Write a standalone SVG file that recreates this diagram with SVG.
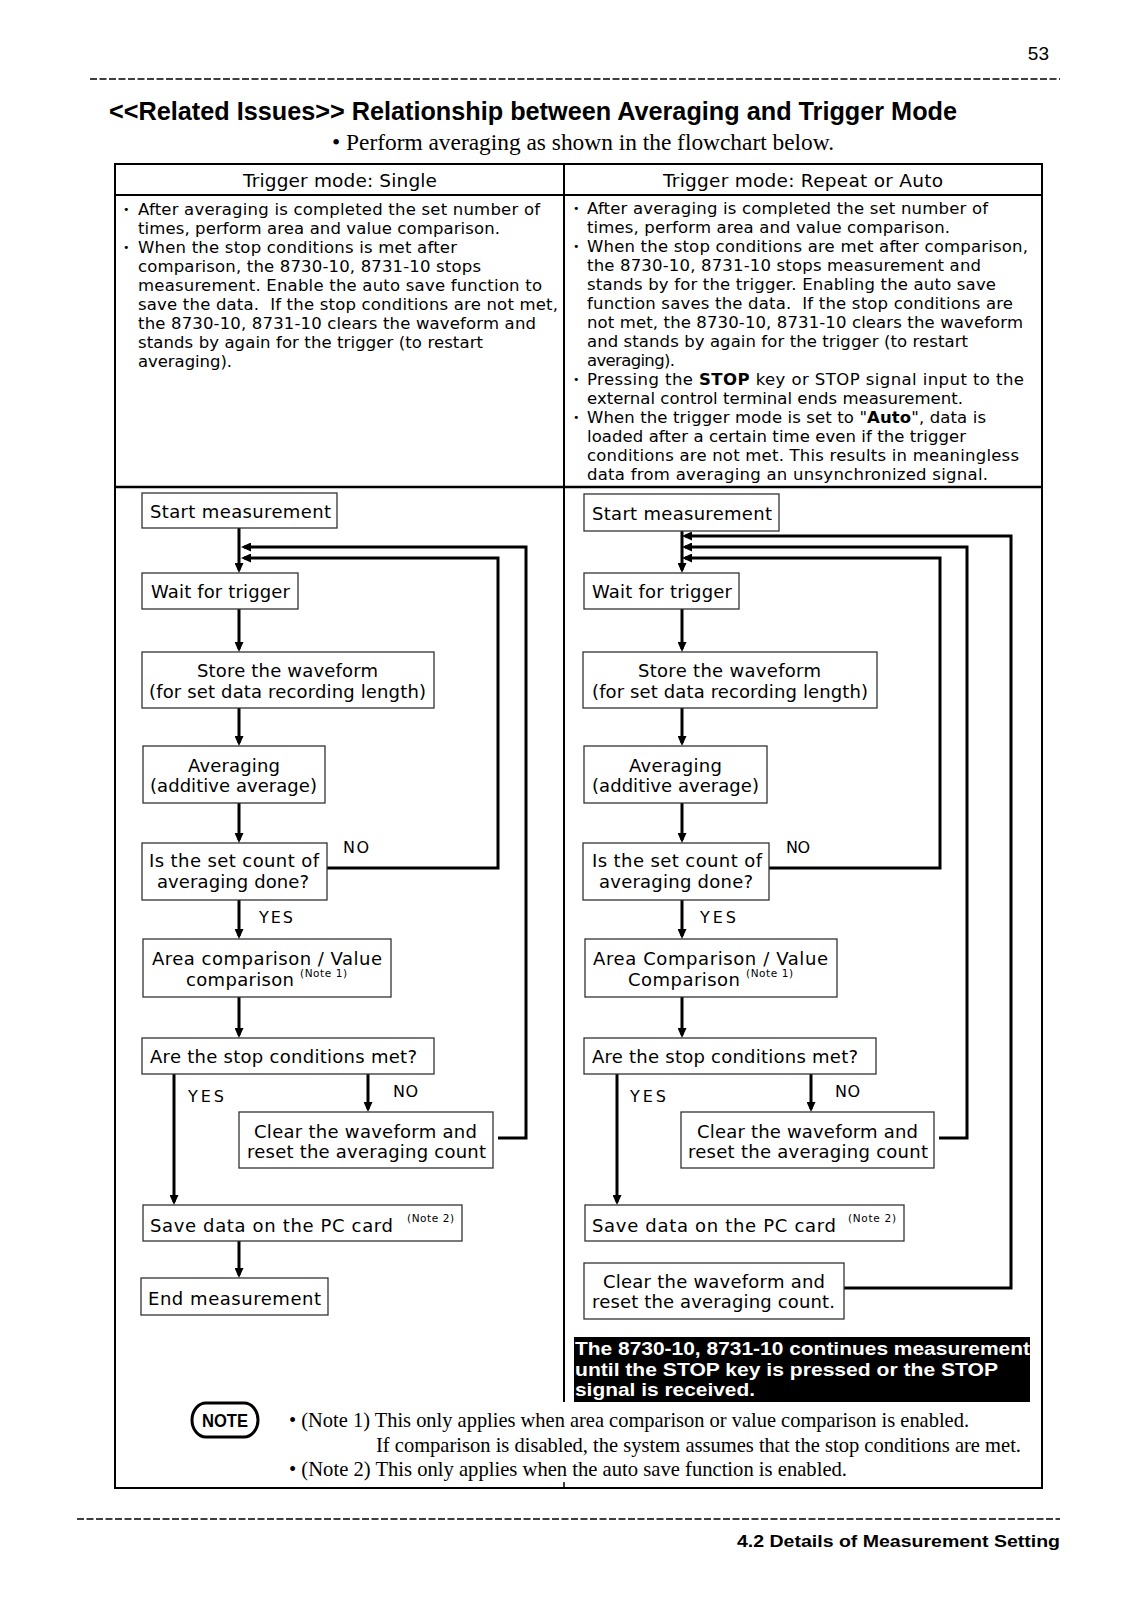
<svg xmlns="http://www.w3.org/2000/svg" width="1131" height="1600" viewBox="0 0 1131 1600">
<style>
.bg{fill:#fff}
.box{fill:#fff;stroke:#333;stroke-width:1.3}
.t{font-family:"DejaVu Sans",sans-serif;font-size:18px;fill:#000}
.d{font-family:"DejaVu Sans",sans-serif;font-size:16.5px;fill:#000}
.bul{font-family:"DejaVu Sans",sans-serif;font-size:11px;fill:#000}
.lbl{font-family:"DejaVu Sans",sans-serif;font-size:16px;fill:#000}
.sup{font-family:"DejaVu Sans",sans-serif;font-size:10.5px;fill:#000}
.hd{font-family:"DejaVu Sans",sans-serif;font-size:18.5px;fill:#000}
.serif{font-family:"Liberation Serif","Times New Roman",serif;fill:#000}
.bold{font-family:"Liberation Sans",Arial,sans-serif;font-weight:bold}
.conn{stroke:#000;stroke-width:3;fill:none}
.rule{stroke:#000;fill:none}
.dash{stroke:#000;stroke-width:1.4;stroke-dasharray:7 2.5;fill:none}
</style>
<defs>
<marker id="ah" markerUnits="userSpaceOnUse" markerWidth="10" markerHeight="9" refX="7" refY="4.5" orient="auto">
<path d="M0,0 L10,4.5 L0,9 z" fill="#000"/>
</marker>
</defs>
<rect class="bg" x="0" y="0" width="1131" height="1600"/>

<!-- page header -->
<g id="page-header">
<text x="1049" y="60" text-anchor="end" font-family="Liberation Sans, Arial, sans-serif" font-size="19">53</text>
<line class="dash" x1="90" y1="79" x2="1060" y2="79"/>
<text class="bold" x="109" y="119.5" font-size="26" textLength="848" lengthAdjust="spacingAndGlyphs">&lt;&lt;Related Issues&gt;&gt;  Relationship between Averaging and Trigger Mode</text>
<text class="serif" x="332" y="150" font-size="23" textLength="502" lengthAdjust="spacingAndGlyphs">• Perform averaging as shown in the flowchart below.</text>
</g>

<!-- table frame -->
<g id="table">
<rect x="115" y="164" width="927" height="1324" fill="none" stroke="#000" stroke-width="2"/>
<line class="rule" x1="115" y1="195" x2="1042" y2="195" stroke-width="2"/>
<line class="rule" x1="115" y1="487" x2="1042" y2="487" stroke-width="2.5"/>
<line class="rule" x1="564" y1="164" x2="564" y2="1402" stroke-width="2"/>
<line class="rule" x1="564" y1="1482" x2="564" y2="1488" stroke-width="1.5"/>
<text class="hd" x="243" y="187" textLength="194">Trigger mode: Single</text>
<text class="hd" x="663" y="187" textLength="280">Trigger mode: Repeat or Auto</text>
</g>

<!-- descriptions -->
<g id="desc-left">
<text class="bul" x="123" y="213">•</text>
<text class="bul" x="123" y="251">•</text>
<text class="d" x="138" y="215" textLength="402">After averaging is completed the set number of</text>
<text class="d" x="138" y="234" textLength="362">times, perform area and value comparison.</text>
<text class="d" x="138" y="253" textLength="319">When the stop conditions is met after</text>
<text class="d" x="138" y="272" textLength="343">comparison, the 8730-10, 8731-10 stops</text>
<text class="d" x="138" y="291" textLength="404">measurement. Enable the auto save function to</text>
<text class="d" x="138" y="310" textLength="420">save the data.&#160; If the stop conditions are not met,</text>
<text class="d" x="138" y="329" textLength="398">the 8730-10, 8731-10 clears the waveform and</text>
<text class="d" x="138" y="348" textLength="345">stands by again for the trigger (to restart</text>
<text class="d" x="138" y="367" textLength="94">averaging).</text>
</g>
<g id="desc-right">
<text class="bul" x="573" y="212">•</text>
<text class="bul" x="573" y="250">•</text>
<text class="bul" x="573" y="383">•</text>
<text class="bul" x="573" y="421">•</text>
<text class="d" x="587" y="214" textLength="401">After averaging is completed the set number of</text>
<text class="d" x="587" y="233" textLength="363">times, perform area and value comparison.</text>
<text class="d" x="587" y="252" textLength="441">When the stop conditions are met after comparison,</text>
<text class="d" x="587" y="271" textLength="394">the 8730-10, 8731-10 stops measurement and</text>
<text class="d" x="587" y="290" textLength="409">stands by for the trigger. Enabling the auto save</text>
<text class="d" x="587" y="309" textLength="426">function saves the data.&#160; If the stop conditions are</text>
<text class="d" x="587" y="328" textLength="436">not met, the 8730-10, 8731-10 clears the waveform</text>
<text class="d" x="587" y="347" textLength="381">and stands by again for the trigger (to restart</text>
<text class="d" x="587" y="366" textLength="88">averaging).</text>
<text class="d" x="587" y="385" textLength="437">Pressing the <tspan font-weight="bold">STOP</tspan> key or STOP signal input to the</text>
<text class="d" x="587" y="404" textLength="376">external control terminal ends measurement.</text>
<text class="d" x="587" y="423" textLength="399">When the trigger mode is set to "<tspan font-weight="bold">Auto</tspan>", data is</text>
<text class="d" x="587" y="442" textLength="379">loaded after a certain time even if the trigger</text>
<text class="d" x="587" y="461" textLength="432">conditions are not met. This results in meaningless</text>
<text class="d" x="587" y="480" textLength="401">data from averaging an unsynchronized signal.</text>
</g>

<!-- connectors -->
<g id="connectors">
<path class="conn" d="M239,528 V570" marker-end="url(#ah)"/>
<path class="conn" d="M498,1138 H526 V547 H244" marker-end="url(#ah)"/>
<path class="conn" d="M327,868 H498 V558 H244" marker-end="url(#ah)"/>
<path class="conn" d="M239,609 V649" marker-end="url(#ah)"/>
<path class="conn" d="M239,708 V743" marker-end="url(#ah)"/>
<path class="conn" d="M239,803 V840" marker-end="url(#ah)"/>
<path class="conn" d="M239,900 V936" marker-end="url(#ah)"/>
<path class="conn" d="M239,997 V1035" marker-end="url(#ah)"/>
<path class="conn" d="M174,1074 V1202" marker-end="url(#ah)"/>
<path class="conn" d="M368,1074 V1109" marker-end="url(#ah)"/>
<path class="conn" d="M239,1241 V1275" marker-end="url(#ah)"/>

<path class="conn" d="M682,531 V570" marker-end="url(#ah)"/>
<path class="conn" d="M844,1288 H1011 V536 H685" marker-end="url(#ah)"/>
<path class="conn" d="M939,1138 H967 V547 H685" marker-end="url(#ah)"/>
<path class="conn" d="M769,868 H940 V558 H685" marker-end="url(#ah)"/>
<path class="conn" d="M682,609 V649" marker-end="url(#ah)"/>
<path class="conn" d="M682,708 V743" marker-end="url(#ah)"/>
<path class="conn" d="M682,803 V840" marker-end="url(#ah)"/>
<path class="conn" d="M682,900 V936" marker-end="url(#ah)"/>
<path class="conn" d="M682,997 V1035" marker-end="url(#ah)"/>
<path class="conn" d="M617,1074 V1202" marker-end="url(#ah)"/>
<path class="conn" d="M811,1074 V1109" marker-end="url(#ah)"/>

<text class="lbl" x="343" y="853" textLength="26">NO</text>
<text class="lbl" x="259" y="923" textLength="34">YES</text>
<text class="lbl" x="188" y="1102" textLength="36">YES</text>
<text class="lbl" x="393" y="1097" textLength="25">NO</text>
<text class="lbl" x="786" y="853" textLength="24">NO</text>
<text class="lbl" x="700" y="923" textLength="36">YES</text>
<text class="lbl" x="630" y="1102" textLength="36">YES</text>
<text class="lbl" x="835" y="1097" textLength="25">NO</text>
</g>

<!-- left flowchart nodes -->
<g id="L-start"><rect class="box" x="142" y="493" width="195" height="35"/><text class="t" x="150" y="518" textLength="181">Start measurement</text></g>
<g id="L-wait"><rect class="box" x="142" y="573" width="156" height="36"/><text class="t" x="151" y="598" textLength="139">Wait for trigger</text></g>
<g id="L-store"><rect class="box" x="142" y="652" width="292" height="56"/><text class="t" x="197" y="677" textLength="181">Store the waveform</text><text class="t" x="149" y="698" textLength="277">(for set data recording length)</text></g>
<g id="L-avg"><rect class="box" x="143" y="746" width="182" height="57"/><text class="t" x="188" y="772" textLength="92">Averaging</text><text class="t" x="150" y="792" textLength="167">(additive average)</text></g>
<g id="L-count"><rect class="box" x="142" y="843" width="185" height="57"/><text class="t" x="149" y="867" textLength="170">Is the set count of</text><text class="t" x="157" y="888" textLength="152">averaging done?</text></g>
<g id="L-compare"><rect class="box" x="143" y="939" width="248" height="58"/><text class="t" x="152" y="965" textLength="230">Area comparison / Value</text><text class="t" x="186" y="986" textLength="108">comparison</text><text class="sup" x="300" y="977" textLength="47">(Note 1)</text></g>
<g id="L-stop"><rect class="box" x="142" y="1038" width="292" height="36"/><text class="t" x="150" y="1063" textLength="267">Are the stop conditions met?</text></g>
<g id="L-clear"><rect class="box" x="239" y="1112" width="254" height="56"/><text class="t" x="254" y="1138" textLength="223">Clear the waveform and</text><text class="t" x="247" y="1158" textLength="239">reset the averaging count</text></g>
<g id="L-save"><rect class="box" x="143" y="1205" width="319" height="36"/><text class="t" x="150" y="1232" textLength="243">Save data on the PC card</text><text class="sup" x="407" y="1222" textLength="47">(Note 2)</text></g>
<g id="L-end"><rect class="box" x="141" y="1278" width="187" height="37"/><text class="t" x="148" y="1305" textLength="173">End measurement</text></g>

<!-- right flowchart nodes -->
<g id="R-start"><rect class="box" x="584" y="494" width="195" height="37"/><text class="t" x="592" y="520" textLength="180">Start measurement</text></g>
<g id="R-wait"><rect class="box" x="584" y="573" width="155" height="36"/><text class="t" x="592" y="598" textLength="140">Wait for trigger</text></g>
<g id="R-store"><rect class="box" x="583" y="652" width="294" height="56"/><text class="t" x="638" y="677" textLength="183">Store the waveform</text><text class="t" x="592" y="698" textLength="276">(for set data recording length)</text></g>
<g id="R-avg"><rect class="box" x="584" y="746" width="183" height="57"/><text class="t" x="629" y="772" textLength="93">Averaging</text><text class="t" x="592" y="792" textLength="167">(additive average)</text></g>
<g id="R-count"><rect class="box" x="583" y="843" width="186" height="57"/><text class="t" x="592" y="867" textLength="170">Is the set count of</text><text class="t" x="599" y="888" textLength="154">averaging done?</text></g>
<g id="R-compare"><rect class="box" x="585" y="939" width="252" height="58"/><text class="t" x="593" y="965" textLength="235">Area Comparison / Value</text><text class="t" x="628" y="986" textLength="112">Comparison</text><text class="sup" x="746" y="977" textLength="47">(Note 1)</text></g>
<g id="R-stop"><rect class="box" x="584" y="1038" width="292" height="36"/><text class="t" x="592" y="1063" textLength="266">Are the stop conditions met?</text></g>
<g id="R-clear"><rect class="box" x="681" y="1112" width="253" height="56"/><text class="t" x="697" y="1138" textLength="221">Clear the waveform and</text><text class="t" x="688" y="1158" textLength="240">reset the averaging count</text></g>
<g id="R-save"><rect class="box" x="585" y="1205" width="319" height="36"/><text class="t" x="592" y="1232" textLength="244">Save data on the PC card</text><text class="sup" x="848" y="1222" textLength="48">(Note 2)</text></g>
<g id="R-clear2"><rect class="box" x="584" y="1263" width="260" height="56"/><text class="t" x="603" y="1288" textLength="222">Clear the waveform and</text><text class="t" x="592" y="1308" textLength="243">reset the averaging count.</text></g>

<!-- black note box -->
<g id="R-continue">
<rect x="574" y="1337" width="456" height="65" fill="#000"/>
<text class="bold" x="575" y="1355" font-size="19" fill="#fff" textLength="455" lengthAdjust="spacingAndGlyphs">The 8730-10, 8731-10 continues measurement</text>
<text class="bold" x="575" y="1376" font-size="19" fill="#fff" textLength="423" lengthAdjust="spacingAndGlyphs">until the STOP key is pressed or the STOP</text>
<text class="bold" x="575" y="1396" font-size="19" fill="#fff" textLength="180" lengthAdjust="spacingAndGlyphs">signal is received.</text>
</g>

<!-- notes -->
<g id="notes">
<rect x="192" y="1403" width="66" height="34" rx="14" ry="17" fill="#fff" stroke="#000" stroke-width="3"/>
<text class="bold" x="225" y="1427" font-size="18" text-anchor="middle" textLength="46" lengthAdjust="spacingAndGlyphs">NOTE</text>
<text class="serif" x="289" y="1427" font-size="21" textLength="680" lengthAdjust="spacingAndGlyphs">• (Note 1) This only applies when area comparison or value comparison is enabled.</text>
<text class="serif" x="376" y="1452" font-size="21" textLength="645" lengthAdjust="spacingAndGlyphs">If comparison is disabled, the system assumes that the stop conditions are met.</text>
<text class="serif" x="289" y="1476" font-size="21" textLength="558" lengthAdjust="spacingAndGlyphs">• (Note 2) This only applies when the auto save function is enabled.</text>
</g>

<!-- page footer -->
<g id="page-footer">
<line class="dash" x1="77" y1="1519" x2="1060" y2="1519"/>
<text class="bold" x="737" y="1547" font-size="17" textLength="323" lengthAdjust="spacingAndGlyphs">4.2  Details of Measurement Setting</text>
</g>
</svg>
